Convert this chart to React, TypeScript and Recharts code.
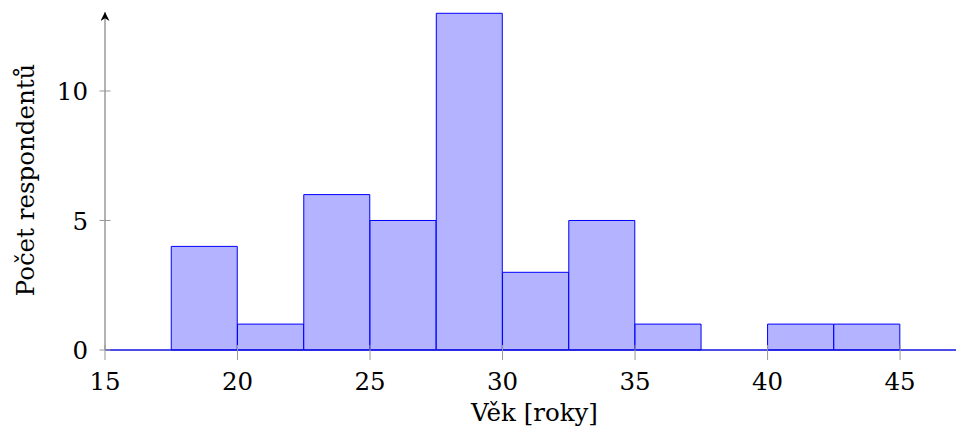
import { BarChart, Bar, XAxis, YAxis } from "recharts";

// histogram bins (width 2.5)
const binStarts = [17.5, 20, 22.5, 25, 27.5, 30, 32.5, 35, 37.5, 40, 42.5];
const counts = [4, 1, 6, 5, 13, 3, 5, 1, 0, 1, 1];
const binWidth = 2.5;

const xTicks = [15, 20, 25, 30, 35, 40, 45];
const yTicks = [0, 5, 10];

const xLabel = "Věk [roky]";
const yLabel = "Počet respondentů";

const data = binStarts.map((s, i) => ({ mid: s + binWidth / 2, count: counts[i] }));

const FONT = "DejaVu Serif, serif";
const FS = 24.5;
const X_TICK_SIZE = 10;
const X_TICK_MARGIN = 11;
const Y_TICK_SIZE = 6;
const Y_TICK_MARGIN = 11;

const XTick = (props: any) => {
  const { x, y, payload } = props;
  const axisY = y - X_TICK_SIZE - X_TICK_MARGIN;
  return (
    <g>
      <line x1={x} x2={x} y1={axisY - 5} y2={axisY + 10} stroke="#999" strokeWidth={1} />
      <text x={x} y={y} dy="0.76em" textAnchor="middle" style={{ fontFamily: FONT, fontSize: FS }} fill="#000">
        {payload.value}
      </text>
    </g>
  );
};

const YTick = (props: any) => {
  const { x, y, payload } = props;
  const axisX = x + Y_TICK_SIZE + Y_TICK_MARGIN;
  return (
    <g>
      <line x1={axisX - 5.5} x2={axisX + 5.5} y1={y} y2={y} stroke="#999" strokeWidth={1} />
      <text x={x} y={y} dy="0.37em" textAnchor="end" style={{ fontFamily: FONT, fontSize: FS }} fill="#000">
        {payload.value}
      </text>
    </g>
  );
};

const YTitle = (props: any) => {
  const { viewBox } = props;
  const cx = viewBox.x + 34;
  const cy = viewBox.y + viewBox.height / 2 - 1;
  return (
    <text
      x={cx}
      y={cy}
      transform={`rotate(-90, ${cx}, ${cy})`}
      textAnchor="middle"
      style={{ fontFamily: FONT, fontSize: FS }}
      fill="#000"
    >
      {yLabel}
    </text>
  );
};

const XTitle = (props: any) => {
  const { viewBox } = props;
  const cx = viewBox.x + viewBox.width / 2 + 4;
  const cy = viewBox.y + 71;
  return (
    <text x={cx} y={cy} textAnchor="middle" style={{ fontFamily: FONT, fontSize: FS }} fill="#000">
      {xLabel}
    </text>
  );
};

export default function App() {
  return (
    <div style={{ width: 956, height: 437, background: "#fff" }}>
      <style>{"body{margin:0}"}</style>
      <BarChart
        width={956}
        height={437}
        data={data}
        margin={{ top: 12, right: 0, bottom: 0, left: 0 }}
        barCategoryGap={0}
        barGap={0}
      >
        <defs>
          <marker
            id="yArrow"
            viewBox="0 0 10 10"
            refX="10"
            refY="5"
            markerWidth="10"
            markerHeight="9"
            markerUnits="userSpaceOnUse"
            orient="auto-start-reverse"
          >
            <path d="M0,0 L10,5 L0,10 L3,5 z" fill="#000" />
          </marker>
        </defs>
        <XAxis
          dataKey="mid"
          type="number"
          domain={[15, 47.11]}
          ticks={xTicks}
          height={87}
          tickSize={X_TICK_SIZE}
          tickMargin={X_TICK_MARGIN}
          tickLine={false}
          tick={<XTick />}
          axisLine={{ stroke: "#1010e0", strokeWidth: 1.3 }}
          label={<XTitle />}
        />
        <YAxis
          type="number"
          domain={[0, 13.05]}
          ticks={yTicks}
          width={105}
          tickSize={Y_TICK_SIZE}
          tickMargin={Y_TICK_MARGIN}
          tickLine={false}
          tick={<YTick />}
          axisLine={{ stroke: "#666", strokeWidth: 1, markerStart: "url(#yArrow)" }}
          label={<YTitle />}
        />
        <Bar
          dataKey="count"
          fill="#b3b3ff"
          stroke="#0000ff"
          strokeWidth={1}
          isAnimationActive={false}
        />
      </BarChart>
    </div>
  );
}
